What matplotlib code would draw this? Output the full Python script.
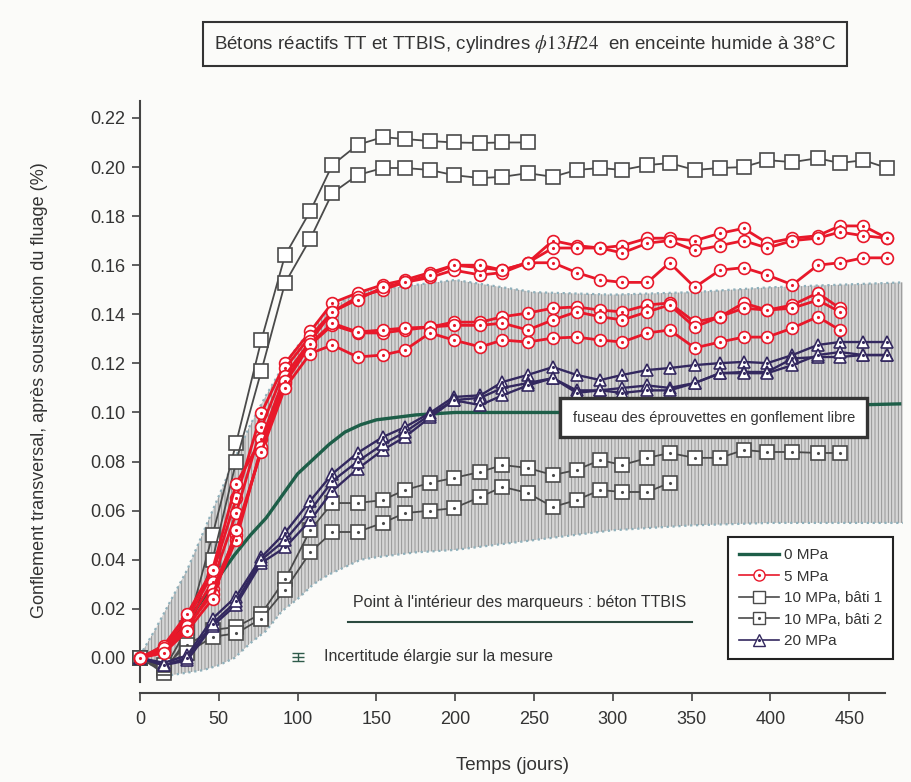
import matplotlib
matplotlib.use("Agg")
from matplotlib import pyplot as plt
from matplotlib.lines import Line2D

plt.rcParams['font.family'] = ['Liberation Sans', 'DejaVu Sans']
plt.rcParams['mathtext.fontset'] = 'stix'
plt.rcParams['hatch.linewidth'] = 0.6

# jours des mesures (marqueurs)
jours = [0, 15, 30, 46, 61, 77, 92, 108, 122, 138, 154, 168, 184, 199, 216, 230,
         246, 262, 277, 292, 306, 322, 336, 352, 368, 383, 398, 414, 430, 444, 459, 474]

# 0 MPa : moyenne gonflement libre
libre_jours = [0, 10, 20, 30, 40, 50, 60, 70, 80, 90, 100, 110, 120, 130, 140, 150,
               175, 200, 250, 300, 350, 400, 450, 482]
libre_moy = [0, 0.003, 0.008, 0.015, 0.024, 0.033, 0.042, 0.050, 0.057, 0.066, 0.075,
             0.081, 0.087, 0.092, 0.095, 0.097, 0.099, 0.100, 0.100, 0.100, 0.101,
             0.102, 0.103, 0.1035]

# fuseau des éprouvettes en gonflement libre
fuseau_jours = [0, 10, 20, 30, 40, 50, 60, 70, 80, 90, 100, 110, 120, 130, 140, 150,
                175, 200, 250, 300, 350, 400, 484]
fuseau_bas = [0, -0.004, -0.007, -0.006, -0.005, -0.003, 0.000, 0.006, 0.011, 0.019,
              0.024, 0.030, 0.034, 0.037, 0.040, 0.041, 0.043, 0.044, 0.048, 0.052,
              0.054, 0.055, 0.055]
fuseau_haut = [0.001, 0.012, 0.024, 0.036, 0.051, 0.066, 0.081, 0.095, 0.107, 0.118,
               0.127, 0.135, 0.142, 0.146, 0.149, 0.150, 0.152, 0.154, 0.149, 0.148,
               0.149, 0.151, 0.153]

# 5 MPa
r1 = [0, 0.004, 0.016, 0.034, 0.065, 0.0998, 0.120, 0.133, 0.1446, 0.1487, 0.152, 0.154,
      0.157, 0.160, 0.159, 0.158, 0.161, 0.170, 0.168, 0.167, 0.168, 0.171, 0.171, 0.170,
      0.173, 0.175, 0.169, 0.171, 0.172, 0.176, 0.176, 0.171]
r2 = [0, 0.003, 0.014, 0.031, 0.059, 0.094, 0.118, 0.131, 0.141, 0.147, 0.150, 0.153,
      0.155, 0.158, 0.156, 0.157, 0.161, 0.167, 0.167, 0.167, 0.165, 0.169, 0.170, 0.166,
      0.168, 0.170, 0.167, 0.170, 0.171, 0.1735, 0.172, 0.171]
r3 = [0, 0.005, 0.018, 0.036, 0.071, 0.089, 0.115, 0.129, 0.141, 0.146, 0.151, 0.153,
      0.156, 0.160, 0.160, 0.158, 0.161, 0.161, 0.157, 0.154, 0.153, 0.153, 0.161, 0.151,
      0.158, 0.159, 0.156, 0.152, 0.160, 0.161, 0.163, 0.163]
r4 = [0, 0.003, 0.012, 0.028, 0.050, 0.085, 0.112, 0.1275, 0.1356, 0.1324, 0.1324, 0.1336,
      0.1348, 0.1368, 0.1368, 0.139, 0.1405, 0.1425, 0.143, 0.1417, 0.141, 0.1438, 0.1446,
      0.1368, 0.139, 0.1446, 0.1417, 0.1438, 0.1487, 0.1425]
r5 = [0, 0.004, 0.013, 0.026, 0.048, 0.086, 0.113, 0.128, 0.1364, 0.1328, 0.1336, 0.1344,
      0.1348, 0.1355, 0.1355, 0.1364, 0.1336, 0.1377, 0.141, 0.139, 0.1377, 0.141, 0.1438,
      0.1348, 0.139, 0.1425, 0.1417, 0.1425, 0.1458, 0.141]
r6 = [0, 0.002, 0.011, 0.024, 0.052, 0.084, 0.110, 0.124, 0.1275, 0.1226, 0.1234, 0.1254,
      0.1324, 0.1295, 0.1267, 0.1295, 0.1287, 0.1303, 0.1307, 0.1295, 0.1287, 0.1324,
      0.1336, 0.1263, 0.1287, 0.1307, 0.1307, 0.1344, 0.139, 0.1336]

# 10 MPa bâti 1
b1a = [0, -0.005, 0.012, 0.050, 0.0876, 0.1295, 0.164, 0.182, 0.2008, 0.209, 0.2122,
       0.2114, 0.2106, 0.210, 0.2098, 0.210, 0.210]
b1b = [0, -0.006, 0.008, 0.040, 0.080, 0.117, 0.1527, 0.1707, 0.1894, 0.1967, 0.1996,
       0.1996, 0.1988, 0.1967, 0.1955, 0.196, 0.1975, 0.196, 0.1988, 0.1996, 0.1988,
       0.2008, 0.2016, 0.1988, 0.1996, 0.200, 0.2028, 0.202, 0.2036, 0.2016, 0.2028, 0.1996]

# 10 MPa bâti 2
b2a = [0, -0.004, 0.0053, 0.0114, 0.0126, 0.018, 0.032, 0.052, 0.0631, 0.0631, 0.0643,
       0.0684, 0.0713, 0.0733, 0.0758, 0.0786, 0.0774, 0.0745, 0.0766, 0.0806, 0.0786,
       0.0815, 0.0835, 0.0815, 0.0815, 0.0847, 0.0839, 0.0839, 0.0835, 0.0835]
b2b = [0, -0.003, 0.002, 0.0086, 0.010, 0.016, 0.0277, 0.043, 0.0513, 0.0513, 0.055,
       0.059, 0.060, 0.061, 0.0656, 0.0697, 0.0672, 0.0615, 0.0643, 0.0684, 0.0676,
       0.0676, 0.0713]

# 20 MPa
t1 = [0, -0.002, 0.001, 0.016, 0.025, 0.041, 0.051, 0.064, 0.075, 0.0835, 0.090, 0.094,
      0.0998, 0.1063, 0.107, 0.1124, 0.1153, 0.1185, 0.1153, 0.1132, 0.1153, 0.1173,
      0.1181, 0.1193, 0.1201, 0.1206, 0.1201, 0.1234, 0.1275, 0.1287, 0.1287, 0.1287]
t2 = [0, -0.003, -0.001, 0.013, 0.0216, 0.0387, 0.045, 0.056, 0.068, 0.077, 0.0847, 0.090,
      0.098, 0.105, 0.106, 0.110, 0.112, 0.114, 0.109, 0.109, 0.110, 0.111, 0.110, 0.112,
      0.116, 0.1165, 0.1165, 0.122, 0.1226, 0.1226, 0.1234, 0.1234]
t3 = [0, -0.003, 0.000, 0.014, 0.023, 0.040, 0.048, 0.060, 0.072, 0.080, 0.087, 0.092,
      0.099, 0.105, 0.103, 0.107, 0.111, 0.114, 0.108, 0.109, 0.108, 0.109, 0.109, 0.112,
      0.116, 0.116, 0.116, 0.1193, 0.1234, 0.1246, 0.1234, 0.1234]

rouge = '#e8182a'
gris = '#4a4a4a'
vert = '#1d5e48'
violet = '#33285f'
texte = '#333333'

fig = plt.figure(figsize=(9.11, 7.82), dpi=100, facecolor='#fbfbf9')
ax = fig.add_axes([0.1537, 0.1138, 0.8373, 0.7605])
ax.set_facecolor('none')

# fuseau
ax.fill_between(fuseau_jours, fuseau_bas, fuseau_haut, facecolor='#d6d6d6',
                edgecolor='#8c8c8c', hatch='|||||', lw=0, zorder=1)
ax.plot(fuseau_jours, fuseau_bas, color='#8fb0bb', lw=1.6, ls=':', zorder=1.5)
ax.plot(fuseau_jours, fuseau_haut, color='#8fb0bb', lw=1.6, ls=':', zorder=1.5)

ax.plot(libre_jours, libre_moy, color=vert, lw=2.4, zorder=3)


def serie(y, color, marker, ms, lw, dot=False, z=4):
    x = jours[:len(y)]
    ax.plot(x, y, color=color, lw=lw, marker=marker, ms=ms, mfc='white', mec=color,
            mew=1.2, zorder=z, clip_on=False)
    if dot:
        ax.plot(x, y, ls='none', marker='.', ms=2.5, color=color, zorder=z, clip_on=False)


for s in (b1a, b1b):
    serie(s, gris, 's', 9.5, 1.3)
for s in (b2a, b2b):
    serie(s, gris, 's', 9.5, 1.3, dot=True)
for s in (t1, t2, t3):
    serie(s, violet, '^', 8, 1.7, dot=True, z=4.5)
for s in (r1, r2, r3, r4, r5, r6):
    serie(s, rouge, 'o', 8.5, 2.0, dot=True, z=5)

# annotations
ax.text(241, 0.0224, "Point à l'intérieur des marqueurs : béton TTBIS", ha='center',
        va='center', fontsize=11.5, color=texte)
ax.plot([132, 350], [0.0147, 0.0147], color='#2c4a40', lw=1.5)
ax.errorbar([100], [0.0004], yerr=[0.0016], fmt='_', color='#2e5a4a', capsize=4, ms=8,
            lw=1)
ax.text(117, 0.0004, "Incertitude élargie sur la mesure", ha='left', va='center',
        fontsize=11.5, color=texte)
ax.text(364, 0.0978, "fuseau des éprouvettes en gonflement libre", ha='center',
        va='center', fontsize=10.5, color=texte, zorder=6,
        bbox=dict(boxstyle='square,pad=0.85', fc='white', ec='#333333', lw=2.4))

fig.text(0.576, 0.9437,
         "Bétons réactifs TT et TTBIS, cylindres $\\phi\\mathit{13H24}$  en enceinte humide à 38°C",
         ha='center', va='center', fontsize=13.5, color=texte,
         bbox=dict(boxstyle='square,pad=0.6', fc='none', ec='#333333', lw=1.5))

# légende
handles = [
    Line2D([], [], color=vert, lw=2.4),
    (Line2D([], [], color=rouge, lw=1.2, marker='o', ms=8, mfc='white', mec=rouge),
     Line2D([], [], ls='none', marker='.', ms=2.5, color=rouge)),
    Line2D([], [], color=gris, lw=1.2, marker='s', ms=9, mfc='white', mec=gris),
    (Line2D([], [], color=gris, lw=1.2, marker='s', ms=9, mfc='white', mec=gris),
     Line2D([], [], ls='none', marker='.', ms=2.5, color=gris)),
    (Line2D([], [], color=violet, lw=1.2, marker='^', ms=8, mfc='white', mec=violet),
     Line2D([], [], ls='none', marker='.', ms=2.5, color=violet)),
]
labels = ['0 MPa', '5 MPa', '10 MPa, bâti 1', '10 MPa, bâti 2', '20 MPa']
leg = ax.legend(handles, labels, loc='upper left', bbox_to_anchor=(0.771, 0.262),
                borderaxespad=0, frameon=True, fancybox=False, edgecolor='#222222',
                facecolor='white', framealpha=1, fontsize=11, handlelength=2.6,
                borderpad=0.7, labelspacing=0.5, handletextpad=0.35)
leg.get_frame().set_linewidth(1.5)
for t in leg.get_texts():
    t.set_color(texte)

# axes
ax.set_xlim(0, 484)
ax.set_ylim(-0.0143, 0.228)
ax.set_xticks(range(0, 451, 50))
yt = [0.00, 0.02, 0.04, 0.06, 0.08, 0.10, 0.12, 0.14, 0.16, 0.18, 0.20, 0.22]
ax.set_yticks(yt)
ax.set_yticklabels(['%.2f' % v for v in yt])
ax.spines['top'].set_visible(False)
ax.spines['right'].set_visible(False)
ax.spines['left'].set_bounds(-0.0098, 0.227)
ax.spines['bottom'].set_bounds(0, 473)
for sp in ('left', 'bottom'):
    ax.spines[sp].set_linewidth(1.5)
    ax.spines[sp].set_color('#444444')
ax.tick_params(direction='out', length=5.8, width=1.2, labelsize=13, color='#444444',
               labelcolor=texte)
ax.tick_params(axis='y', pad=5)
ax.tick_params(axis='x', pad=7)

ax.set_xlabel('Temps (jours)', fontsize=13.5, color=texte)
ax.xaxis.set_label_coords(0.488, -0.108)
ax.set_ylabel('Gonflement transversal, après soustraction du fluage (%)', fontsize=13,
              color=texte)
ax.yaxis.set_label_coords(-0.12, 0.51)

fig.savefig('out.png', dpi=100, facecolor=fig.get_facecolor())
